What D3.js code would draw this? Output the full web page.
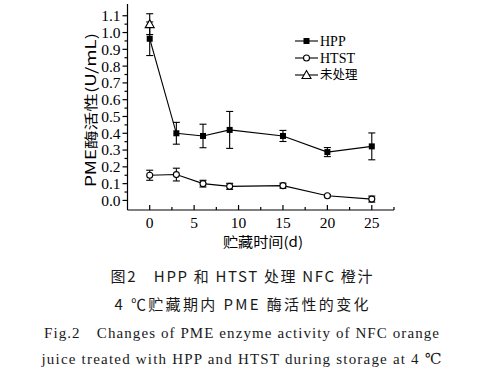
<!DOCTYPE html>
<html>
<head>
<meta charset="utf-8">
<script src="https://cdn.jsdelivr.net/npm/d3@7"></script>
<style>
  body { margin: 0; background: #fff; }
  svg { display: block; }
  .serif { font-family: "Liberation Serif", "DejaVu Serif", serif; }
  .cjk { font-family: "Noto Sans CJK SC", sans-serif; }
</style>
</head>
<body>
<svg id="chart" width="483" height="375"></svg>
<script>
// storage days
const days = [0, 3, 6, 9, 15, 20, 25];

// HPP: mean and error (sd)
const hppMean = [0.963, 0.40, 0.384, 0.42, 0.384, 0.288, 0.322];
const hppErr  = [0.10, 0.065, 0.07, 0.11, 0.033, 0.027, 0.08];

// HTST
const htstMean = [0.150, 0.154, 0.100, 0.084, 0.088, 0.028, 0.008];
const htstErr  = [0.030, 0.038, 0.020, 0.018, 0.015, 0.006, 0.018];

// untreated, only day 0
const rawDays = [0];
const rawMean = [1.05];
const rawErr  = [0.062];

const yTicks = [0, 0.1, 0.2, 0.3, 0.4, 0.5, 0.6, 0.7, 0.8, 0.9, 1.0, 1.1];
const xTicks = [0, 5, 10, 15, 20, 25];

const legendItems = [
  { label: "HPP", shape: "square" },
  { label: "HTST", shape: "circle" },
  { label: "未处理", shape: "triangle" },
];

const captions = [
  { text: "图2　HPP 和 HTST 处理 NFC 橙汁", y: 282, cls: "cjk", len: 262 },
  { text: "4 ℃贮藏期内 PME 酶活性的变化", y: 310, cls: "cjk", len: 254 },
  { text: "Fig.2　Changes of PME enzyme activity of NFC orange", y: 338, cls: "serif", len: 395 },
  { text: "juice treated with HPP and HTST during storage at 4 ℃", y: 364, cls: "serif", len: 400 },
];

const svg = d3.select("#chart");

const x = d3.scaleLinear().domain([-2.5, 27.5]).range([127.5, 394]);
const y = d3.scaleLinear().domain([-0.057, 1.17]).range([210, 4]);

const toRows = (xs, m, e) => xs.map((d, i) => ({ x: d, v: m[i], e: e[i] }));
const hpp = toRows(days, hppMean, hppErr);
const htst = toRows(days, htstMean, htstErr);
const raw = toRows(rawDays, rawMean, rawErr);

// axes
const g = svg.append("g").attr("stroke", "#000").attr("stroke-width", 1.2);
g.append("line").attr("x1", x(-2.5)).attr("x2", x(27.5)).attr("y1", y.range()[0]).attr("y2", y.range()[0]);
g.append("line").attr("x1", x(-2.5)).attr("x2", x(-2.5)).attr("y1", y.range()[0]).attr("y2", y.range()[1]);

// y ticks (outward), minor at half steps
d3.range(0, 23).map(i => i * 0.05).forEach((v, i) => {
  const major = i % 2 === 0;
  g.append("line")
    .attr("x1", x(-2.5)).attr("x2", x(-2.5) - (major ? 5 : 3))
    .attr("y1", y(v)).attr("y2", y(v));
});
svg.append("g").selectAll("text").data(yTicks).join("text")
  .attr("class", "serif")
  .attr("x", x(-2.5) - 7)
  .attr("y", d => y(d))
  .attr("dy", "0.35em")
  .attr("text-anchor", "end")
  .attr("font-size", 15.5)
  .text(d => d3.format(".1f")(d));

// x ticks (inward), minor at 2.5
d3.range(0, 12).map(i => i * 2.5).forEach((v, i) => {
  const major = i % 2 === 0;
  g.append("line")
    .attr("x1", x(v)).attr("x2", x(v))
    .attr("y1", y.range()[0]).attr("y2", y.range()[0] - (major ? 5 : 3));
});
svg.append("g").selectAll("text").data(xTicks).join("text")
  .attr("class", "serif")
  .attr("x", d => x(d))
  .attr("y", 228)
  .attr("text-anchor", "middle")
  .attr("font-size", 15.5)
  .text(d => d);

// axis titles
svg.append("text").attr("class", "cjk")
  .attr("x", 263).attr("y", 247)
  .attr("text-anchor", "middle").attr("font-size", 14)
  .attr("textLength", 80).attr("lengthAdjust", "spacingAndGlyphs")
  .text("贮藏时间(d)");

svg.append("text").attr("class", "cjk")
  .attr("transform", "translate(96,110) rotate(-90)")
  .attr("text-anchor", "middle").attr("font-size", 14)
  .attr("textLength", 154).attr("lengthAdjust", "spacingAndGlyphs")
  .text("PME酶活性(U/mL)");

// series
const line = d3.line().x(d => x(d.x)).y(d => y(d.v));

function errorBars(rows) {
  const eg = svg.append("g").attr("stroke", "#000").attr("stroke-width", 1.1);
  rows.forEach(d => {
    eg.append("line").attr("x1", x(d.x)).attr("x2", x(d.x))
      .attr("y1", y(d.v - d.e)).attr("y2", y(d.v + d.e));
    [d.v - d.e, d.v + d.e].forEach(v => {
      eg.append("line").attr("x1", x(d.x) - 3.5).attr("x2", x(d.x) + 3.5)
        .attr("y1", y(v)).attr("y2", y(v));
    });
  });
}

function marker(sel, shape, cx, cy) {
  if (shape === "square") {
    sel.append("rect").attr("x", cx - 3).attr("y", cy - 3).attr("width", 6).attr("height", 6)
      .attr("fill", "#000");
  } else if (shape === "circle") {
    sel.append("circle").attr("cx", cx).attr("cy", cy).attr("r", 3)
      .attr("fill", "#fff").attr("stroke", "#000").attr("stroke-width", 1.1);
  } else {
    sel.append("path")
      .attr("d", `M${cx},${cy - 4.5}L${cx + 4.5},${cy + 3.5}L${cx - 4.5},${cy + 3.5}Z`)
      .attr("fill", "#fff").attr("stroke", "#000").attr("stroke-width", 1.1);
  }
}

[[hpp, "square"], [htst, "circle"], [raw, "triangle"]].forEach(([rows, shape]) => {
  svg.append("path").datum(rows)
    .attr("fill", "none").attr("stroke", "#000").attr("stroke-width", 1.1)
    .attr("d", line);
  errorBars(rows);
  const mg = svg.append("g");
  rows.forEach(d => marker(mg, shape, x(d.x), y(d.v)));
});

// legend
const lg = svg.append("g");
legendItems.forEach((it, i) => {
  const ly = 41 + i * 17;
  lg.append("line").attr("x1", 295).attr("x2", 318).attr("y1", ly).attr("y2", ly)
    .attr("stroke", "#000").attr("stroke-width", 1.1);
  marker(lg, it.shape, 306.5, ly);
  lg.append("text")
    .attr("class", it.shape === "triangle" ? "cjk" : "serif")
    .attr("x", 320).attr("y", ly).attr("dy", "0.35em")
    .attr("font-size", it.shape === "triangle" ? 12.5 : 14)
    .text(it.label);
});

// caption
svg.append("g").selectAll("text").data(captions).join("text")
  .attr("class", d => d.cls)
  .attr("x", 241.5)
  .attr("y", d => d.y)
  .attr("text-anchor", "middle")
  .attr("font-size", 15)
  .attr("fill", "#1a1a1a")
  .attr("textLength", d => d.len)
  .attr("lengthAdjust", "spacing")
  .text(d => d.text);
</script>
</body>
</html>
